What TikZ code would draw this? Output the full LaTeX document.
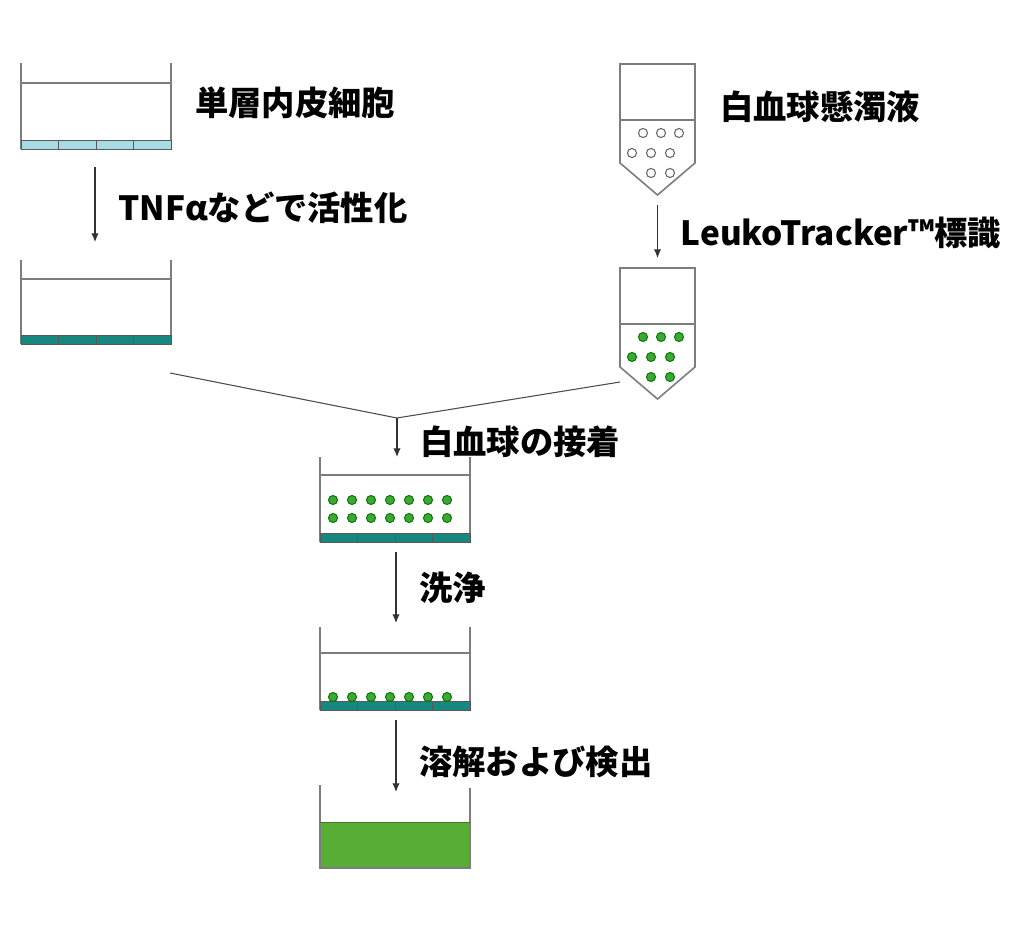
\documentclass[tikz,border=0pt]{standalone}
\usepackage{fontspec}
\setmainfont{Noto Sans CJK JP}
\usepackage{xcolor}
\usepackage{tikz}
\usetikzlibrary{
  arrows.meta,
  calc,
  positioning
}
\definecolor{wallgray}{RGB}{125,125,125}
\definecolor{bandpale}{RGB}{168,220,228}
\definecolor{bandteal}{RGB}{22,136,128}
\definecolor{cellgreen}{RGB}{62,168,52}
\definecolor{lysgreen}{RGB}{88,174,53}
% well: left x, wall top, liquid line, band top, band colour
\newcommand{\wellat}[5]{
  \draw[wall] (#1,#2) -- (#1,#4+9) (#1+150,#2) -- (#1+150,#4+9);
  \draw[wall] (#1,#3) -- (#1+150,#3);
  \draw[band, fill=#5] (#1,#4) rectangle (#1+150,#4+9);
  \foreach \d in {37.5,75,112.5}
    \draw[band] (#1+\d,#4) -- (#1+\d,#4+9);
}
% tube, top left corner at (620,#1), cell style #2
\newcommand{\tubeat}[2]{
  \draw[wall, line width=1.2pt, fill=white] (620,#1+99) -- (620,#1) -- (695,#1) -- (695,#1+99)
    -- (657.5,#1+131) -- cycle;
  \draw[wall, line width=1.2pt] (620,#1+56) -- (695,#1+56);
  \foreach \cx/\cy in {643/69,661/69,679/69,632/89,651/89,670/89,651/109,670/109}
    \draw[#2] (\cx,#1+\cy) circle[radius=3.4pt];
}
\tikzset{
  wall/.style={draw=wallgray, line width=1.6pt},
  band/.style={draw=black!65, line width=0.7pt},
  flow/.style={
    -{Latex[length=6.5pt,width=5.5pt]},
    draw=black!80,
    line width=0.8pt},
  lbl/.style={inner sep=0pt, font=\bfseries\fontsize{25}{29}\selectfont},
  opencell/.style={draw=black!60, fill=white, line width=0.8pt},
  greencell/.style={draw=black!55!green, fill=cellgreen, line width=0.7pt}
  }
\begin{document}
\begin{tikzpicture}[x=0.75pt, y=-0.75pt]
      \useasboundingbox (0,0) rectangle (1031,935);
      % left column: endothelial wells
      \wellat{21}{63}{83}{140}{bandpale}
      \wellat{21}{260}{279}{335}{bandteal}
      \node[lbl, anchor=west] (mono) at (195,103) {単層内皮細胞};
      \coordinate (a1) at (95,167);
      \coordinate (a2) at (95,242);
      % right column: leukocyte tubes
      \tubeat{64}{opencell}
      \tubeat{268}{greencell}
      \node[lbl, anchor=west] (susp) at (720,107) {白血球懸濁液};
      \coordinate (b1) at (657.5,205);
      \coordinate (b2) at (657.5,258);
      % merge
      \coordinate (lft) at (170,373);
      \coordinate (rgt) at (620,382);
      \coordinate (jn) at (397,418);
      \coordinate (c2) at (397,457);
      \draw[draw=black!70, line width=0.8pt] (lft) -- (jn) -- (rgt);
      % adhesion well
      \wellat{320}{457}{475}{533}{bandteal}
      \foreach \i in {0,...,6} {
        \draw[greencell] (333+19*\i,500) circle[radius=3.4pt];
        \draw[greencell] (333+19*\i,518) circle[radius=3.4pt];
      }
      \coordinate (d1) at (396,552);
      \coordinate (d2) at (396,623);
      % washed well
      \wellat{320}{627}{653}{701}{bandteal}
      \foreach \i in {0,...,6}
        \draw[greencell] (333+19*\i,697) circle[radius=3.4pt];
      \coordinate (e1) at (396,720);
      \coordinate (e2) at (396,792);
      % lysis well
      \fill[lysgreen] (320,822) rectangle (470,868);
      \draw[wall] (320,785) -- (320,868) -- (470,868) -- (470,788);
      \draw[draw=lysgreen!70!black, line width=0.6pt] (320,822) -- (470,822);
      \path
      (a1) edge[flow] node[lbl, right=17pt, pos=0.55]{TNFαなどで活性化} (a2)
      (b1) edge[flow] node[lbl, right=17pt, pos=0.52]{LeukoTracker™標識} (b2)
      (jn) edge[flow] node[lbl, right=17pt, pos=0.6]{白血球の接着} (c2)
      (d1) edge[flow] node[lbl, right=17pt, pos=0.5]{洗浄} (d2)
      (e1) edge[flow] node[lbl, right=17pt, pos=0.58]{溶解および検出} (e2);
    \end{tikzpicture}
\end{document}
